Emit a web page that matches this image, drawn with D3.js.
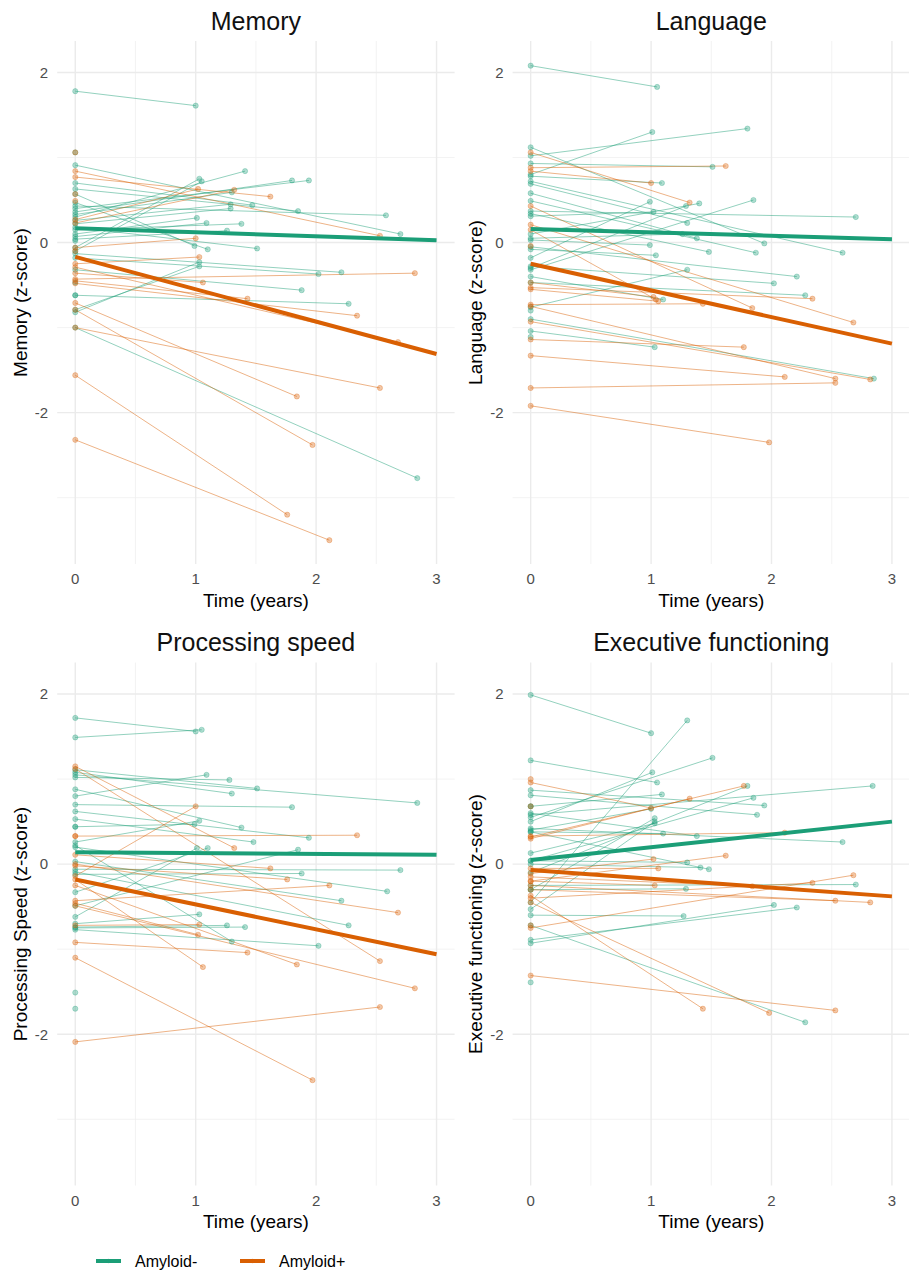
<!DOCTYPE html>
<html lang="en">
<head>
  <title>Cognitive trajectories by amyloid status</title>
  <meta charset="UTF-8">
  <style>
    body { margin: 0; background: #fff; font-family: "Liberation Sans", Arial, sans-serif; }
  </style>
  <script src="https://cdn.jsdelivr.net/npm/d3@7"></script>
</head>
<body>
<script>
  // group: 0 = Amyloid-, 1 = Amyloid+
  // each row: [group, baseline score, follow-up time (years), follow-up score]; null = baseline only
  var groups = ["Amyloid-", "Amyloid+"];
  var groupColors = ["#1b9e77", "#d95f02"];

  var panelTitles = ["Memory", "Language", "Processing speed", "Executive functioning"];
  var yTitles = ["Memory (z-score)", "Language (z-score)", "Processing Speed (z-score)", "Executive functioning (z-score)"];
  var xTicks = [0, 1, 2, 3];
  var yTicks = [-2, 0, 2];

  var memoryData = [
    [0, 1.78, 1.00, 1.61], [0, 0.91, 2.70, 0.10], [0, 0.70, 1.47, 0.44], [0, 0.63, 1.85, 0.37],
    [0, 0.43, 2.58, 0.32], [0, 0.40, 1.94, 0.73], [0, 0.36, 1.80, 0.73], [0, 0.33, 1.30, 0.59],
    [0, 0.30, 1.41, 0.84], [0, 0.26, 1.29, 0.45], [0, 0.22, 1.29, 0.40], [0, 0.15, 1.38, 0.22],
    [0, 0.10, 1.01, 0.29], [0, 0.07, 1.09, 0.23], [0, 0.04, 1.26, 0.14], [0, -0.06, 1.03, 0.75],
    [0, -0.10, 1.05, 0.72], [0, 0.57, 0.99, -0.04], [0, 0.47, 1.10, -0.08], [0, 0.18, 1.51, -0.07],
    [0, -0.13, 2.21, -0.35], [0, -0.18, 2.02, -0.37], [0, -0.32, 1.88, -0.56], [0, -0.62, 2.27, -0.72],
    [0, -0.82, 1.03, -0.23], [0, -0.79, 1.03, -0.28], [0, -1.00, 2.84, -2.77],
    [0, 1.06, null, null], [0, 0.02, null, null], [0, -0.47, null, null], [0, -0.62, null, null],
    [1, 0.84, 2.53, 0.08], [1, 0.77, 1.62, 0.54], [1, 0.27, 1.02, 0.63], [1, 0.23, 1.32, 0.62],
    [1, -0.06, 1.00, 0.05], [1, -0.25, 1.03, -0.17], [1, -0.36, 1.06, -0.47], [1, -0.43, 2.82, -0.36],
    [1, -0.45, 1.43, -0.66], [1, -0.48, 2.34, -0.86], [1, -0.29, 2.68, -1.17], [1, -0.71, 1.84, -1.81],
    [1, -0.79, 1.97, -2.38], [1, -1.00, 2.53, -1.71], [1, -1.56, 1.76, -3.20], [1, -2.32, 2.11, -3.50],
    [1, 1.06, null, null], [1, 0.57, null, null], [1, 0.49, null, null], [1, -0.10, null, null]
  ];

  var languageData = [
    [0, 2.08, 1.05, 1.83], [0, 1.02, 1.80, 1.34], [0, 0.80, 1.01, 1.30], [0, 1.12, 1.94, -0.01],
    [0, 0.93, 1.51, 0.89], [0, 0.78, 1.09, 0.70], [0, 0.72, 2.59, -0.12], [0, 0.69, 1.30, 0.23],
    [0, 0.58, 1.38, 0.05], [0, 0.49, 1.87, -0.12], [0, 0.37, 2.70, 0.30], [0, 0.34, 1.48, -0.11],
    [0, 0.31, 1.02, 0.36], [0, 0.10, 1.40, 0.46], [0, -0.18, 0.99, 0.48], [0, -0.30, 1.29, 0.43],
    [0, -0.32, 1.85, 0.50], [0, 0.05, 1.26, 0.10], [0, 0.03, 0.99, -0.03], [0, -0.08, 1.04, -0.15],
    [0, -0.05, 2.21, -0.40], [0, -0.28, 2.02, -0.48], [0, -0.76, 1.30, -0.32], [0, -0.47, 2.28, -0.62],
    [0, -0.40, 1.10, -0.67], [0, -0.90, 2.85, -1.60], [0, -1.04, 1.03, -1.23],
    [0, -1.11, null, null], [0, -0.80, null, null],
    [1, 1.06, 1.32, 0.47], [1, 0.88, 1.62, 0.90], [1, 0.84, 1.00, 0.70], [1, 0.43, 1.84, -0.77],
    [1, 0.21, 2.68, -0.94], [1, 0.15, 1.04, -0.67], [1, -0.53, 2.34, -0.66], [1, -0.47, 1.02, -0.64],
    [1, -0.55, 1.06, -0.69], [1, -0.73, 1.43, -0.72], [1, -0.93, 2.82, -1.61], [1, -1.14, 1.77, -1.23],
    [1, -1.33, 2.11, -1.58], [1, -0.75, 2.53, -1.60], [1, -1.71, 2.53, -1.65], [1, -1.92, 1.98, -2.35],
    [1, -0.04, null, null]
  ];

  var speedData = [
    [0, 1.72, 1.00, 1.56], [0, 1.49, 1.05, 1.58], [0, 1.11, 1.51, 0.89], [0, 1.08, 1.30, 0.83],
    [0, 1.05, 2.84, 0.72], [0, 1.02, 1.28, 0.99], [0, 0.80, 1.09, 1.05], [0, 0.88, 1.38, 0.43],
    [0, 0.70, 1.80, 0.67], [0, 0.62, 1.94, 0.31], [0, 0.53, 1.48, 0.26], [0, 0.44, 0.99, 0.47],
    [0, 0.26, 1.03, 0.51], [0, 0.20, 2.59, -0.32], [0, -0.49, 1.85, 0.17], [0, -0.62, 1.01, 0.19],
    [0, -0.33, 1.10, 0.19], [0, -0.06, 2.70, -0.07], [0, -0.12, 1.88, -0.11], [0, 0.03, 2.21, -0.43],
    [0, -0.70, 1.03, -0.59], [0, -0.74, 1.26, -0.72], [0, -0.75, 1.41, -0.74], [0, 0.22, 1.30, -0.91],
    [0, -0.09, 2.27, -0.72], [0, -0.77, 2.02, -0.96],
    [0, -1.51, null, null], [0, -1.70, null, null], [0, 0.44, null, null],
    [1, 1.15, 1.32, 0.19], [1, 1.12, 2.53, -1.14], [1, -0.14, 1.00, 0.68], [1, 0.33, 2.34, 0.34],
    [1, 0.11, 1.62, -0.05], [1, -0.02, 1.76, -0.18], [1, -0.43, 2.11, -0.25], [1, 0.00, 2.68, -0.57],
    [1, -0.72, 1.03, -0.71], [1, -0.46, 1.02, -0.83], [1, -0.92, 1.43, -1.04], [1, -0.18, 1.06, -1.21],
    [1, -0.25, 1.84, -1.18], [1, -0.49, 2.82, -1.46], [1, -2.09, 2.53, -1.68], [1, -1.10, 1.97, -2.54],
    [1, 0.33, null, null]
  ];

  var execData = [
    [0, 1.99, 1.00, 1.54], [0, 1.22, 1.05, 0.96], [0, 0.87, 1.94, 0.69], [0, 0.81, 1.88, 0.58],
    [0, 0.68, 1.09, 0.82], [0, 0.60, 1.38, 0.33], [0, 0.55, 1.51, 1.25], [0, 0.50, 1.01, 1.08],
    [0, 0.42, 2.59, 0.26], [0, 0.40, 1.00, 0.65], [0, 0.38, 1.10, 0.36], [0, 0.58, 2.84, 0.92],
    [0, 0.04, 1.85, 0.78], [0, -0.10, 1.80, 0.92], [0, -0.30, 1.03, 0.54], [0, -0.45, 1.30, 1.69],
    [0, -0.53, 1.03, 0.50], [0, 0.13, 1.03, 0.48], [0, 0.04, 1.30, 0.02], [0, 0.00, 1.41, -0.04],
    [0, 0.38, 1.48, -0.06], [0, -0.25, 2.70, -0.24], [0, -0.30, 1.29, -0.29], [0, -0.93, 2.02, -0.48],
    [0, -0.89, 2.21, -0.51], [0, -0.60, 1.27, -0.61], [0, -0.72, 2.28, -1.86],
    [0, -1.39, null, null], [0, 0.68, null, null],
    [1, 0.96, 1.00, 0.66], [1, 0.32, 1.77, 0.92], [1, 0.30, 1.32, 0.77], [1, 0.33, 2.11, 0.37],
    [1, -0.11, 1.02, 0.06], [1, -0.20, 1.62, 0.10], [1, -0.05, 1.06, -0.05], [1, -0.20, 1.03, -0.25],
    [1, -0.75, 2.68, -0.13], [1, -0.40, 2.34, -0.22], [1, -0.15, 1.84, -0.26], [1, -0.30, 2.53, -0.43],
    [1, -0.25, 2.82, -0.45], [1, -0.37, 1.43, -1.70], [1, -0.45, 1.98, -1.75], [1, -1.31, 2.53, -1.72],
    [1, 1.00, null, null], [1, 0.68, null, null], [1, -0.72, null, null]
  ];

  // fitted group lines: [intercept, slope] for Amyloid-, Amyloid+
  var memoryFit = [[0.168, -0.047], [-0.168, -0.381]];
  var languageFit = [[0.16, -0.040], [-0.25, -0.313]];
  var speedFit = [[0.14, -0.010], [-0.18, -0.293]];
  var execFit = [[0.05, 0.150], [-0.07, -0.103]];

  var panelData = [memoryData, languageData, speedData, execData];
  var panelFits = [memoryFit, languageFit, speedFit, execFit];

  var W = 909, H = 1271;
  var svg = d3.select("body").append("svg")
    .attr("width", W).attr("height", H)
    .style("display", "block");
  svg.append("rect").attr("width", W).attr("height", H).attr("fill", "#fff");

  var pw = 397.4, ph = 523;
  var lefts = [57.2, 512.6], tops = [41, 662.6];

  var x = d3.scaleLinear().domain([-0.15, 3.15]).range([0, pw]);
  var y = d3.scaleLinear().domain([-3.78, 2.37]).range([ph, 0]);

  panelTitles.forEach(function(title, i) {
    var g = svg.append("g")
      .attr("transform", "translate(" + lefts[i % 2] + "," + tops[Math.floor(i / 2)] + ")");
    var rows = panelData[i];
    var fits = panelFits[i];

    // grid
    var minorX = [0.5, 1.5, 2.5], minorY = [-3, -1, 1];
    g.selectAll(".gxm").data(minorX).enter().append("line")
      .attr("x1", x).attr("x2", x).attr("y1", 0).attr("y2", ph)
      .attr("stroke", "#f0f0f0").attr("stroke-width", 0.8);
    g.selectAll(".gym").data(minorY).enter().append("line")
      .attr("x1", 0).attr("x2", pw).attr("y1", y).attr("y2", y)
      .attr("stroke", "#f0f0f0").attr("stroke-width", 0.8);
    g.selectAll(".gx").data(xTicks).enter().append("line")
      .attr("x1", x).attr("x2", x).attr("y1", 0).attr("y2", ph)
      .attr("stroke", "#ebebeb").attr("stroke-width", 1.4);
    g.selectAll(".gy").data(yTicks).enter().append("line")
      .attr("x1", 0).attr("x2", pw).attr("y1", y).attr("y2", y)
      .attr("stroke", "#ebebeb").attr("stroke-width", 1.4);

    // tick labels
    g.selectAll(".ty").data(yTicks).enter().append("text")
      .attr("x", -9).attr("y", function(d) { return y(d) + 5.3; })
      .attr("text-anchor", "end")
      .attr("font-size", 15).attr("fill", "#4d4d4d")
      .text(function(d) { return d; });
    g.selectAll(".tx").data(xTicks).enter().append("text")
      .attr("x", x).attr("y", ph + 20)
      .attr("text-anchor", "middle")
      .attr("font-size", 15).attr("fill", "#4d4d4d")
      .text(function(d) { return d; });

    // titles
    g.append("text")
      .attr("x", pw / 2).attr("y", -11.5)
      .attr("text-anchor", "middle")
      .attr("font-size", 25).attr("fill", "#111")
      .text(title);
    g.append("text")
      .attr("x", pw / 2).attr("y", ph + 42.5)
      .attr("text-anchor", "middle")
      .attr("font-size", 19).attr("fill", "#000")
      .text("Time (years)");
    g.append("text")
      .attr("transform", "translate(-30.5," + (ph / 2) + ") rotate(-90)")
      .attr("text-anchor", "middle")
      .attr("font-size", 19).attr("fill", "#000")
      .text(yTitles[i]);

    var withFollow = rows.filter(function(r) { return r[2] !== null; });

    // individual trajectories
    g.selectAll(".traj").data(withFollow).enter().append("line")
      .attr("x1", x(0)).attr("y1", function(r) { return y(r[1]); })
      .attr("x2", function(r) { return x(r[2]); })
      .attr("y2", function(r) { return y(r[3]); })
      .attr("stroke", function(r) { return groupColors[r[0]]; })
      .attr("stroke-opacity", 0.6)
      .attr("stroke-width", 0.8);

    var pts = [];
    rows.forEach(function(r) {
      pts.push({g: r[0], t: 0, v: r[1]});
      if (r[2] !== null) pts.push({g: r[0], t: r[2], v: r[3]});
    });
    g.selectAll(".pt").data(pts).enter().append("circle")
      .attr("cx", function(d) { return x(d.t); })
      .attr("cy", function(d) { return y(d.v); })
      .attr("r", 2.6)
      .attr("fill", function(d) { return groupColors[d.g]; })
      .attr("fill-opacity", 0.35)
      .attr("stroke", function(d) { return groupColors[d.g]; })
      .attr("stroke-opacity", 0.35)
      .attr("stroke-width", 0.8);

    // group fits
    g.selectAll(".fit").data(fits).enter().append("line")
      .attr("x1", x(0)).attr("y1", function(f) { return y(f[0]); })
      .attr("x2", x(3)).attr("y2", function(f) { return y(f[0] + 3 * f[1]); })
      .attr("stroke", function(f, k) { return groupColors[k]; })
      .attr("stroke-width", 4);
  });

  // legend
  var legX = [96, 240];
  var leg = svg.append("g").attr("transform", "translate(0,1261)");
  groups.forEach(function(name, k) {
    leg.append("line")
      .attr("x1", legX[k]).attr("x2", legX[k] + 25).attr("y1", 0).attr("y2", 0)
      .attr("stroke", groupColors[k]).attr("stroke-width", 4);
    leg.append("circle")
      .attr("cx", legX[k] + 12.5).attr("cy", 0).attr("r", 2.2)
      .attr("fill", groupColors[k]).attr("fill-opacity", 0.5);
    leg.append("text")
      .attr("x", legX[k] + 39).attr("y", 5.5)
      .attr("font-size", 16).attr("fill", "#000")
      .text(name);
  });
</script>
</body>
</html>
